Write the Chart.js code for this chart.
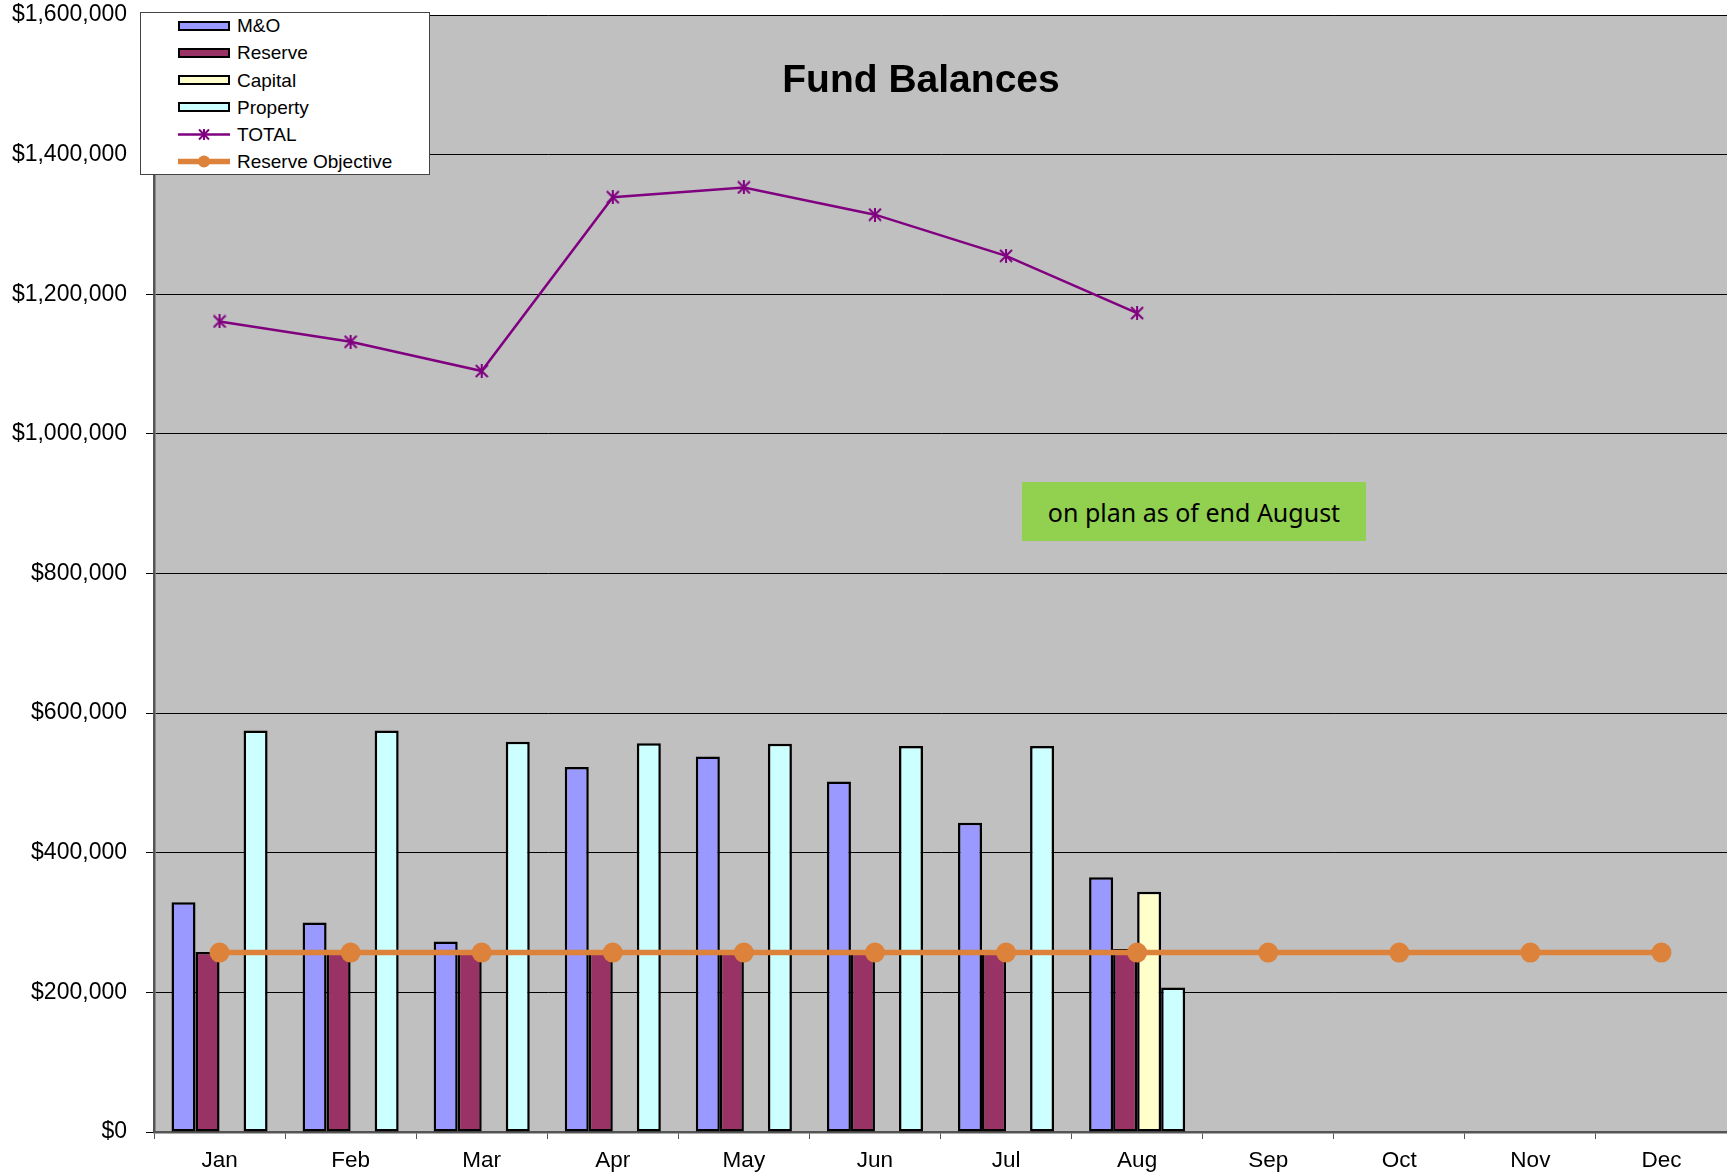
<!DOCTYPE html>
<html>
<head>
<meta charset="utf-8">
<title>Fund Balances</title>
<script src="https://cdn.jsdelivr.net/npm/chart.js@4.4.1/dist/chart.umd.min.js"></script>
<style>
  html, body { margin: 0; padding: 0; background: #fff; }
  #wrap { position: relative; width: 1727px; height: 1175px; overflow: hidden; }
  #fundChart { position: absolute; left: 0; top: 0; }
  #chart-title {
    position: absolute; left: 921px; top: 59px; transform: translateX(-50%);
    font: bold 39px/39px "Liberation Sans", Arial, sans-serif; color: #000; white-space: nowrap;
  }
  #legend {
    position: absolute; left: 140px; top: 12px; width: 288px; height: 161px;
    background: #fff; border: 1px solid #444;
  }
  .legend-row {
    position: absolute; left: 0; height: 19px; display: flex; align-items: center;
    font: 19px/19px "Liberation Sans", Arial, sans-serif; color: #000; white-space: nowrap;
  }
  .legend-mark { position: absolute; left: 37px; top: 0; width: 52px; height: 19px; }
  .legend-box { box-sizing: border-box; position: absolute; left: 0; top: 4.5px; width: 52px; height: 10px; border: 2.5px solid #000; }
  .legend-text { position: absolute; left: 96px; top: 0; }
  #note {
    position: absolute; left: 1022px; top: 482px; width: 344px; height: 59px;
    background: #92d050; display: flex; align-items: center; justify-content: center;
    font: 25px "Noto Sans", "Open Sans", sans-serif; color: #000; white-space: nowrap;
  }
</style>
</head>
<body>
<div id="wrap">
  <canvas id="fundChart" width="1727" height="1175"></canvas>
  <div id="chart-title">Fund Balances</div>
  <div id="legend"></div>
  <div id="note">on plan as of end August</div>
</div>
<script>
  // --- dados ---
  const months = ['Jan', 'Feb', 'Mar', 'Apr', 'May', 'Jun', 'Jul', 'Aug', 'Sep', 'Oct', 'Nov', 'Dec'];
  const moValues = [329000, 300000, 273000, 523000, 538000, 502000, 443000, 365000, null, null, null, null];
  const reserveValues = [258000, 257000, 257000, 257000, 257000, 257000, 257000, 262000, null, null, null, null];
  const capitalValues = [1000, 1000, 1000, 1000, 1000, 1000, 1000, 344000, null, null, null, null];
  const propertyValues = [575000, 575000, 559000, 557000, 556000, 553000, 553000, 207000, null, null, null, null];
  const totalValues = [1161000, 1132000, 1090000, 1339000, 1353000, 1314000, 1255000, 1173000, null, null, null, null];
  const reserveObjective = [257000, 257000, 257000, 257000, 257000, 257000, 257000, 257000, 257000, 257000, 257000, 257000];
  const yMin = 0;
  const yMax = 1600000;
  const yStep = 200000;

  // marcador "estrela" estilo Excel (X com barra vertical)
  function makeStar(size, color, lw) {
    const c = document.createElement('canvas');
    c.width = size;
    c.height = size;
    const g = c.getContext('2d');
    g.strokeStyle = color;
    g.lineWidth = lw;
    g.beginPath();
    g.moveTo(size / 2, 0); g.lineTo(size / 2, size);
    g.moveTo(1, 1); g.lineTo(size - 1, size - 1);
    g.moveTo(size - 1, 1); g.lineTo(1, size - 1);
    g.stroke();
    return c;
  }
  const starMarker = makeStar(14, '#800080', 2);

  // fundo cinza da área de plotagem
  const plotBackground = {
    id: 'plotBackground',
    beforeDraw(chart) {
      const { ctx, chartArea: a } = chart;
      ctx.save();
      ctx.fillStyle = '#c0c0c0';
      ctx.fillRect(a.left, a.top, chart.width - a.left, a.bottom - a.top);
      ctx.restore();
    },
  };

  const barCommon = {
    borderColor: '#000',
    borderWidth: 2.5,
    borderSkipped: false,
    categoryPercentage: 0.733,
    barPercentage: 1.0,
    order: 3,
  };

  const chart = new Chart(document.getElementById('fundChart'), {
    type: 'bar',
    data: {
      labels: months,
      datasets: [
        { ...barCommon, label: 'M&O', data: moValues, backgroundColor: '#9999ff' },
        { ...barCommon, label: 'Reserve', data: reserveValues, backgroundColor: '#993366' },
        { ...barCommon, label: 'Capital', data: capitalValues, backgroundColor: '#ffffcc' },
        { ...barCommon, label: 'Property', data: propertyValues, backgroundColor: '#ccffff' },
        {
          type: 'line', label: 'TOTAL', data: totalValues,
          borderColor: '#800080', backgroundColor: '#800080', borderWidth: 2.5,
          pointStyle: starMarker, pointRadius: 7, spanGaps: false, order: 2,
        },
        {
          type: 'line', label: 'Reserve Objective', data: reserveObjective,
          borderColor: '#dd823b', backgroundColor: '#dd823b', borderWidth: 5.5,
          pointStyle: 'circle', pointRadius: 10, pointBorderWidth: 0, order: 1,
        },
      ],
    },
    options: {
      responsive: false,
      animation: false,
      layout: { autoPadding: false, padding: { top: 15, right: 0, bottom: 0, left: 0 } },
      plugins: {
        legend: { display: false },
        title: { display: false },
      },
      scales: {
        x: {
          grid: { display: true, drawOnChartArea: false, drawTicks: true, tickLength: 7, color: '#555', offset: true },
          border: { display: true, color: '#555', width: 2.5 },
          ticks: { color: '#000', padding: 8, font: { family: '"Liberation Sans", Arial, sans-serif', size: 22.5 } },
          afterFit(scale) {
            scale.height = 43;
            scale.paddingLeft = 0;
            scale.paddingRight = 0;
          },
        },
        y: {
          min: yMin,
          max: yMax,
          grid: { color: '#000', lineWidth: 1, tickLength: 8 },
          border: { display: true, color: '#555', width: 2.5 },
          ticks: {
            stepSize: yStep,
            color: '#000',
            padding: 19,
            font: { family: '"Liberation Sans", Arial, sans-serif', size: 23 },
            callback: (v) => '$' + Number(v).toLocaleString('en-US'),
          },
          afterFit(scale) {
            scale.width = 154;
            scale.paddingTop = 0;
            scale.paddingBottom = 0;
          },
        },
      },
    },
    plugins: [plotBackground],
  });

  // --- legenda em HTML, montada a partir dos datasets ---
  const legendEl = document.getElementById('legend');
  chart.data.datasets.forEach((ds, i) => {
    const row = document.createElement('div');
    row.className = 'legend-row';
    row.style.top = (3.2 + 27.2 * i) + 'px';
    row.style.width = '288px';
    const mark = document.createElement('div');
    mark.className = 'legend-mark';
    if (ds.type === 'line') {
      const ns = 'http://www.w3.org/2000/svg';
      const svg = document.createElementNS(ns, 'svg');
      svg.setAttribute('width', '52');
      svg.setAttribute('height', '19');
      const ln = document.createElementNS(ns, 'line');
      ln.setAttribute('x1', '0'); ln.setAttribute('x2', '52');
      ln.setAttribute('y1', '9.5'); ln.setAttribute('y2', '9.5');
      ln.setAttribute('stroke', ds.borderColor);
      ln.setAttribute('stroke-width', ds.borderWidth);
      ln.setAttribute('stroke-linecap', 'round');
      svg.appendChild(ln);
      if (ds.pointStyle === 'circle') {
        const c = document.createElementNS(ns, 'circle');
        c.setAttribute('cx', '26'); c.setAttribute('cy', '9.5'); c.setAttribute('r', '6');
        c.setAttribute('fill', ds.backgroundColor);
        svg.appendChild(c);
      } else {
        const p = document.createElementNS(ns, 'path');
        p.setAttribute('d', 'M26 4V15M21 4.5L31 14.5M31 4.5L21 14.5');
        p.setAttribute('stroke', ds.borderColor);
        p.setAttribute('stroke-width', '2');
        svg.appendChild(p);
      }
      mark.appendChild(svg);
    } else {
      const box = document.createElement('div');
      box.className = 'legend-box';
      box.style.background = ds.backgroundColor;
      mark.appendChild(box);
    }
    const txt = document.createElement('div');
    txt.className = 'legend-text';
    txt.textContent = ds.label;
    row.appendChild(mark);
    row.appendChild(txt);
    legendEl.appendChild(row);
  });
</script>
</body>
</html>
